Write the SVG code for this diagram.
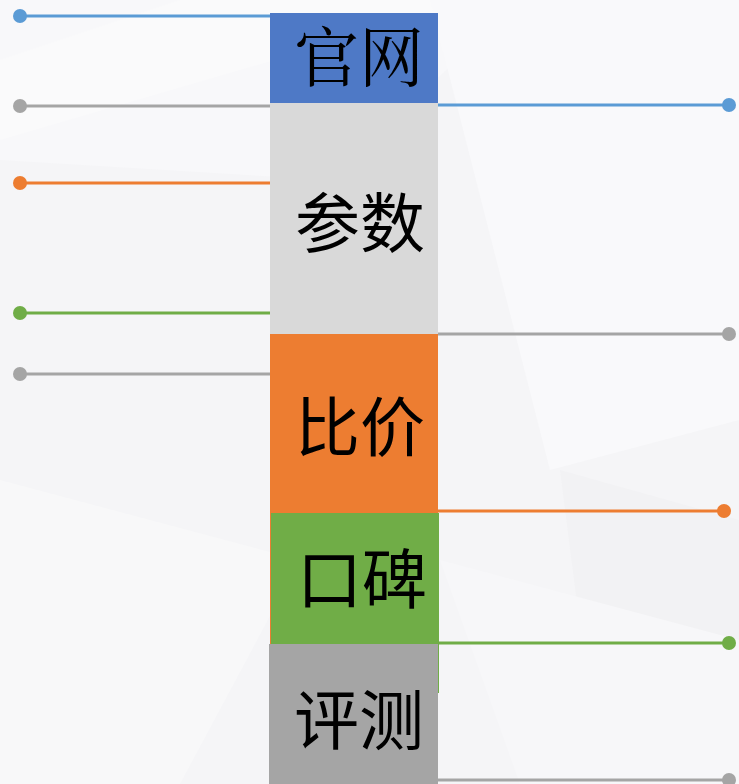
<svg xmlns="http://www.w3.org/2000/svg" width="739" height="784" viewBox="0 0 739 784">
<style>
.lbl{font-family:"Noto Sans CJK SC","Noto Sans",sans-serif;font-size:65px;fill:#000;text-anchor:middle}
.ln{stroke-width:3;fill:none}
.blue{stroke:#5b9bd5}.bluef{fill:#5b9bd5}
.gray{stroke:#a5a5a5}.grayf{fill:#a5a5a5}
.orange{stroke:#ed7d31}.orangef{fill:#ed7d31}
.green{stroke:#70ad47}.greenf{fill:#70ad47}
</style>
<g id="background">
<rect width="739" height="784" fill="#f5f5f7"/>
<polygon points="0,0 520,0 330,180 0,160" fill="#f8f8fa"/>
<polygon points="0,60 180,0 480,0 0,140" fill="#fafafb"/>
<polygon points="430,0 739,0 739,420 550,470" fill="#f9f9fb"/>
<polygon points="0,480 300,560 180,784 0,784" fill="#f8f8f9"/>
<polygon points="560,470 739,520 739,784 600,784" fill="#f2f2f4"/>
<polygon points="440,560 739,640 739,784 520,784" fill="#f7f7f9"/>
</g>
<g id="connectors">
<line class="ln blue" x1="20" y1="16" x2="270" y2="16"/><circle class="bluef" cx="20" cy="16" r="7"/>
<line class="ln gray" x1="20" y1="106" x2="270" y2="106"/><circle class="grayf" cx="20" cy="106" r="7"/>
<line class="ln orange" x1="20" y1="183" x2="270" y2="183"/><circle class="orangef" cx="20" cy="183" r="7"/>
<line class="ln green" x1="20" y1="313" x2="270" y2="313"/><circle class="greenf" cx="20" cy="313" r="7"/>
<line class="ln gray" x1="20" y1="374" x2="270" y2="374"/><circle class="grayf" cx="20" cy="374" r="7"/>
<line class="ln blue" x1="438" y1="105" x2="729" y2="105"/><circle class="bluef" cx="729" cy="105" r="7"/>
<line class="ln gray" x1="438" y1="334" x2="729" y2="334"/><circle class="grayf" cx="729" cy="334" r="7"/>
<line class="ln orange" x1="438" y1="511" x2="724" y2="511"/><circle class="orangef" cx="724" cy="511" r="7"/>
<line class="ln green" x1="438" y1="643" x2="729" y2="643"/><circle class="greenf" cx="729" cy="643" r="7"/>
<line class="ln gray" x1="438" y1="780" x2="729" y2="780"/><circle class="grayf" cx="729" cy="780" r="7"/>
</g>
<g id="node-guanwang">
<rect x="270" y="13" width="168" height="90" fill="#4e79c6"/>
<text class="lbl" x="359" y="81" style="font-family:'Noto Serif CJK SC','Noto Sans CJK SC',serif">官网</text>
</g>
<g id="node-canshu">
<rect x="270" y="103" width="168" height="231" fill="#d9d9d9"/>
<text class="lbl" x="360" y="247">参数</text>
</g>
<g id="node-bijia">
<rect x="270" y="334" width="168" height="179" fill="#ed7d31"/>
<text class="lbl" x="360" y="451">比价</text>
</g>
<g id="node-koubei">
<rect x="270" y="513" width="169" height="180" fill="#70ad47"/>
<line x1="270.5" y1="513" x2="270.5" y2="644" stroke="#ed7d31" stroke-width="1"/>
<text class="lbl" x="362" y="603">口碑</text>
</g>
<g id="node-pingce">
<rect x="269" y="644" width="169" height="140" fill="#a5a5a5"/>
<text class="lbl" x="359" y="744">评测</text>
</g>
</svg>
